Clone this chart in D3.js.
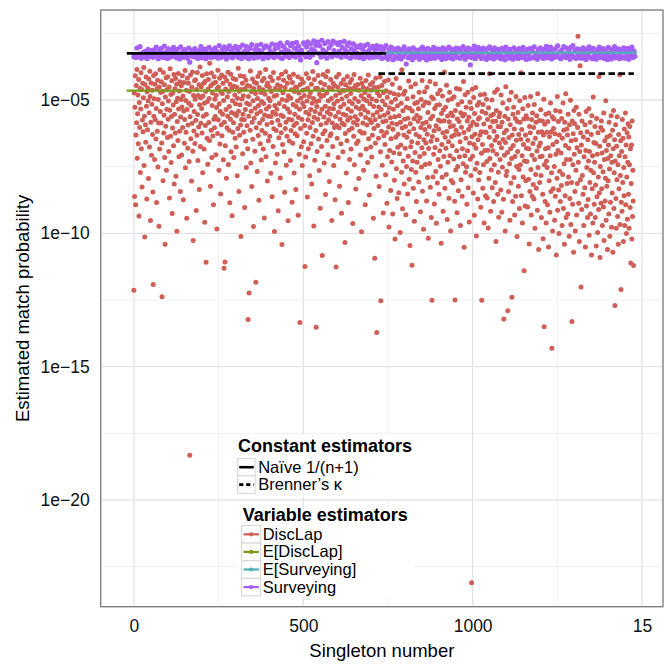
<!DOCTYPE html>
<html lang="en">
<head>
<meta charset="UTF-8">
<title>Estimated match probability</title>
<script src="https://d3js.org/d3.v7.min.js"></script>
<style>
  body { margin: 0; background: #fff; }
  svg { display: block; font-family: "Liberation Sans", Arial, Helvetica, sans-serif; }
</style>
</head>
<body>
<svg width="668" height="664"></svg>
<script>
// DiscLap estimates: -log10(p) in hundredths, one value per singleton from 0
const discLap = [
  1213, 474, 862, 527, 409, 893, 631, 446, 585, 386, 718, 552, 481, 664, 423, 935, 509, 603, 457, 772,
  534, 398, 683, 461, 826, 575, 437, 619, 492, 378, 746, 561, 1014, 442, 593, 658, 414, 523, 871, 469,
  612, 455, 503, 794, 421, 548, 676, 392, 487, 952, 583, 436, 707, 516, 463, 629, 845, 1192, 408, 561,
  495, 723, 441, 574, 402, 646, 532, 884, 459, 617, 426, 751, 498, 586, 973, 451, 684, 387, 543, 472,
  586, 432, 661, 1238, 514, 468, 803, 397, 624, 557, 443, 716, 1041, 489, 598, 417, 763, 535, 462, 641,
  413, 572, 504, 693, 451, 867, 538, 383, 636, 479, 734, 562, 428, 926, 605, 474, 519, 672, 404, 815,
  553, 458, 624, 419, 786, 507, 441, 992, 581, 493, 652, 401, 534, 713, 466, 617, 432, 843, 564, 498,
  447, 706, 526, 409, 603, 485, 874, 541, 434, 662, 573, 389, 754, 502, 621, 463, 943, 536, 418, 681,
  594, 437, 512, 731, 468, 1832, 563, 406, 645, 521, 804, 452, 587, 395, 692, 1027, 483, 616, 543, 428,
  663, 497, 424, 576, 914, 461, 632, 397, 554, 727, 483, 601, 443, 836, 518, 376, 674, 492, 587, 451,
  532, 624, 408, 773, 485, 561, 437, 684, 512, 958, 431, 596, 468, 1108, 553, 402, 643, 506, 741, 459,
  423, 584, 494, 652, 362, 334, 823, 447, 613, 399, 716, 521, 474, 635, 438, 893, 572, 413, 604, 497,
  562, 433, 705, 482, 528, 984, 457, 626, 388, 574, 451, 763, 514, 418, 665, 543, 852, 469, 593, 406,
  634, 476, 553, 437, 724, 502, 1131, 583, 414, 1107, 672, 459, 536, 793, 427, 604, 488, 561, 396, 742,
  468, 613, 524, 885, 441, 572, 403, 694, 547, 456, 934, 503, 621, 419, 585, 716, 448, 552, 481, 643,
  514, 423, 676, 558, 452, 784, 493, 607, 381, 542, 843, 467, 632, 518, 409, 594, 1012, 461, 573, 496,
  437, 702, 553, 484, 621, 412, 574, 903, 458, 536, 654, 426, 753, 512, 597, 446, 683, 1323, 487, 561,
  1224, 517, 448, 613, 391, 736, 542, 469, 824, 583, 421, 647, 503, 974, 457, 568, 433, 692, 531, 476,
  1183, 604, 437, 552, 768, 494, 412, 633, 521, 876, 453, 586, 398, 664, 543, 472, 725, 506, 614, 428,
  573, 462, 684, 513, 419, 942, 556, 478, 625, 386, 713, 534, 447, 592, 804, 436, 561, 653, 493, 524,
  452, 636, 503, 414, 775, 562, 468, 584, 863, 427, 546, 674, 397, 608, 486, 993, 521, 457, 736, 553,
  614, 482, 535, 703, 443, 576, 915, 418, 642, 513, 462, 594, 792, 448, 557, 623, 403, 1042, 498, 667,
  473, 562, 426, 694, 524, 846, 453, 607, 394, 583, 745, 502, 636, 437, 534, 953, 484, 572, 412, 654,
  546, 418, 727, 493, 614, 462, 575, 883, 434, 662, 517, 403, 596, 774, 468, 553, 627, 451, 836, 524,
  587, 452, 634, 504, 413, 932, 566, 474, 703, 535, 1334, 442, 607, 493, 675, 421, 573, 746, 512, 463,
  434, 657, 524, 483, 596, 1124, 462, 714, 546, 402, 625, 504, 864, 456, 574, 683, 418, 553, 487, 784,
  603, 472, 536, 664, 441, 815, 512, 584, 393, 636, 494, 972, 565, 423, 726, 543, 457, 614, 1352, 506,
  524, 693, 456, 572, 408, 646, 503, 764, 478, 552, 906, 434, 593, 487, 674, 535, 1083, 462, 627, 404,
  483, 564, 736, 442, 615, 523, 854, 413, 586, 474, 652, 546, 392, 705, 503, 574, 453, 806, 532, 634,
  553, 423, 627, 494, 952, 458, 586, 674, 437, 533, 746, 514, 603, 446, 874, 562, 483, 1126, 414, 596,
  643, 504, 452, 716, 546, 403, 604, 823, 474, 572, 526, 664, 438, 925, 496, 587, 463, 694, 553, 424,
  516, 593, 464, 1034, 626, 443, 557, 774, 486, 653, 412, 576, 534, 884, 456, 613, 505, 723, 434, 567,
  476, 684, 542, 423, 606, 513, 963, 457, 584, 636, 404, 743, 494, 562, 446, 834, 527, 663, 461, 593,
  574, 442, 654, 506, 794, 463, 534, 617, 418, 706, 553, 484, 994, 437, 624, 523, 586, 452, 763, 496,
  624, 537, 472, 893, 566, 427, 684, 503, 594, 458, 734, 546, 406, 645, 484, 856, 573, 514, 442, 676,
  463, 584, 714, 496, 632, 434, 556, 943, 524, 607, 453, 1093, 574, 662, 418, 786, 503, 1372, 546, 474,
  596, 452, 643, 526, 824, 484, 563, 414, 694, 1253, 536, 617, 446, 745, 504, 582, 924, 473, 634, 557,
  431, 667, 518, 780, 579, 465, 622, 887, 490, 713, 548, 425, 601, 976, 529, 689, 472, 567, 839, 645,
  508, 732, 587, 441, 927, 610, 535, 698, 477, 801, 563, 1021, 497, 640, 419, 758, 591, 869, 522, 677,
  628, 480, 848, 559, 702, 455, 997, 583, 669, 512, 771, 387, 605, 908, 540, 729, 478, 631, 815, 572,
  467, 681, 599, 930, 527, 749, 640, 495, 852, 568, 711, 429, 619, 797, 531, 1046, 589, 675, 450, 761,
  657, 1120, 541, 729, 488, 831, 608, 570, 955, 513, 697, 440, 771, 629, 881, 558, 733, 509, 661, 580,
  533, 807, 471, 638, 712, 567, 919, 603, 498, 751, 679, 427, 842, 588, 521, 985, 649, 701, 469, 611,
  742, 508, 661, 583, 879, 452, 628, 791, 547, 1018, 682, 511, 599, 738, 431, 827, 570, 655, 941, 489,
  1251, 637, 561, 789, 495, 703, 615, 890, 532, 678, 440, 768, 597, 962, 520, 649, 811, 477, 723, 575,
  609, 853, 518, 690, 463, 748, 580, 1037, 551, 667, 790, 485, 623, 917, 537, 712, 578, 395, 831, 640,
  527, 681, 779, 445, 618, 948, 560, 733, 501, 657, 868, 582, 471, 709, 600, 991, 549, 802, 637, 495,
  672, 559, 810, 597, 721, 488, 631, 880, 1250, 539, 762, 613, 457, 690, 923, 571, 749, 517, 840, 628,
  581, 713, 460, 657, 971, 548, 799, 602, 507, 861, 683, 560, 739, 431, 622, 1052, 553, 709, 480, 771,
  643, 527, 750, 891, 579, 690, 471, 829, 611, 565, 957, 661, 508, 722, 597, 783, 532, 2310, 638, 460,
  711, 583, 849, 491, 667, 932, 551, 628, 760, 453, 681, 1010, 593, 737, 520, 871, 649, 571, 800, 509,
  567, 772, 631, 480, 902, 619, 700, 1251, 543, 667, 831, 517, 743, 590, 961, 478, 689, 620, 859, 550,
  622, 497, 731, 867, 573, 688, 980, 529, 793, 640, 402, 719, 601, 917, 559, 762, 671, 500, 829, 581,
  690, 553, 881, 617, 743, 471, 651, 809, 580, 1031, 539, 703, 637, 461, 853, 599, 771, 940, 563, 661,
  549, 723, 600, 837, 481, 679, 921, 583, 752, 511, 648, 872, 1321, 623, 707, 561, 991, 659, 450, 783,
  613, 767, 532, 697, 1290, 571, 843, 641, 500, 739, 951, 593, 683, 811, 471, 719, 1240, 631, 881, 553,
  671, 527, 791, 609, 931, 712, 569, 861, 487, 651, 749, 1012, 581, 693, 547, 823, 629, 761, 907, 503,
  583, 743, 647, 398, 859, 611, 709, 961, 533, 789, 667, 571, 1140, 729, 491, 897, 631, 803, 559, 681,
  731, 569, 901, 651, 521, 797, 683, 1040, 599, 843, 623, 487, 761, 931, 573, 707, 861, 549, 663, 817,
  603, 871, 517, 723, 981, 643, 779, 583, 831, 559, 691, 913, 477, 753, 621, 1061, 673, 577, 809, 713,
  661, 537, 783, 941, 619, 711, 579, 853, 1020, 631, 497, 1350, 743, 591, 881, 683, 553, 961, 729, 621,
  753, 893, 581, 679, 1051, 549, 803, 637, 921, 709, 511, 843, 619, 773, 1431, 563, 991, 667, 833, 607,
  571, 749, 951, 627, 861, 539, 703, 1081, 657, 793, 487, 913, 689, 581, 837, 1001, 631, 767, 543, 881,
  341, 699, 821, 569, 971, 643, 779, 511, 907, 613, 739, 1041, 583, 859, 671, 477, 941, 723, 609, 813,
  631, 927, 553, 789, 681, 1011, 593, 869, 723, 501, 967, 653, 809, 1331, 579, 891, 743, 627, 1071, 539,
  703, 589, 843, 991, 649, 763, 527, 931, 679, 813, 603, 261, 733, 887, 553, 1031, 693, 372, 799, 623,
  1201, 669, 911, 579, 783, 321, 853, 639, 971, 713, 341, 829, 593, 1051, 689, 543, 897, 753, 619, 941,
  649, 873, 729, 533, 1007, 693, 809, 583, 927, 763, 629, 1081, 559, 833, 709, 961, 489, 773, 659, 891,
  733, 599, 941, 819, 663, 1047, 569, 863, 703, 997, 623, 789, 911, 412, 849, 673, 1091, 749, 603, 887,
  579, 833, 699, 971, 613, 769, 901, 549, 1027, 723, 653, 879, 793, 503, 951, 689, 823, 639, 1061, 719,
  803, 669, 927, 583, 759, 1011, 633, 883, 709, 559, 977, 733, 849, 613, 1071, 683, 539, 907, 773, 649,
  1271, 729, 593, 869, 981, 673, 799, 563, 937, 743, 1041, 629, 833, 709, 405, 967, 783, 653, 1211, 883,
  693, 917, 573, 809, 643, 1031, 753, 859, 609, 971, 713, 549, 893, 669, 1001, 789, 623, 947, 733, 589,
  853, 639, 981, 743, 599, 903, 683, 1111, 813, 669, 1021, 579, 937, 763, 879, 1121
];

// Surveying estimates: -log10(p) in hundredths, one value every 3 singletons from 0
const surveyingStep = 3;
const surveying = [
  338, 332, 341, 305, 336, 328, 300, 343, 335, 322, 339, 318, 331, 344, 310, 326, 337, 315, 329, 340,
  312, 334, 302, 327, 345, 316, 338, 306, 323, 341, 298, 333, 319, 344, 308, 330, 339, 313, 325, 303,
  336, 317, 342, 309, 328, 346, 301, 332, 320, 340, 311, 335, 324, 343, 305, 358, 329, 314, 337, 321,
  307, 339, 326, 344, 315, 331, 300, 342, 318, 334, 309, 345, 322, 336, 303, 329, 341, 313, 327, 338,
  304, 332, 319, 343, 296, 328, 340, 311, 335, 301, 324, 346, 308, 330, 297, 338, 316, 342, 306, 327,
  299, 336, 312, 341, 303, 325, 344, 294, 331, 317, 339, 300, 322, 345, 307, 334, 292, 328, 343, 310,
  326, 296, 340, 314, 333, 291, 321, 345, 305, 337, 297, 329, 342, 302, 318, 336, 290, 324, 341, 308,
  293, 331, 303, 339, 287, 320, 344, 298, 327, 310, 336, 285, 316, 341, 296, 324, 288, 334, 306, 339,
  284, 318, 298, 335, 350, 313, 328, 286, 291, 338, 301, 282, 322, 340, 289, 309, 331, 278, 316, 295,
  360, 283, 326, 297, 339, 276, 312, 335, 288, 320, 343, 281, 305, 330, 293, 338, 279, 315, 328, 286,
  334, 292, 318, 284, 340, 303, 327, 280, 312, 337, 295, 321, 286, 343, 307, 330, 289, 316, 339, 299,
  325, 302, 341, 294, 333, 310, 345, 297, 322, 337, 291, 315, 342, 305, 329, 299, 340, 312, 326, 296,
  338, 309, 331, 300, 344, 318, 306, 340, 296, 328, 347, 312, 335, 302, 323, 349, 308, 337, 315, 343,
  305, 332, 319, 346, 311, 338, 301, 326, 365, 315, 342, 308, 335, 322, 349, 304, 329, 340, 313, 336,
  320, 347, 309, 333, 302, 341, 316, 328, 350, 306, 337, 323, 345, 311, 330, 303, 343, 318, 334, 308,
  339, 313, 327, 348, 304, 336, 319, 344, 309, 331, 302, 342, 325, 310, 346, 317, 333, 305, 340, 321,
  307, 343, 316, 335, 300, 328, 347, 312, 338, 305, 324, 368, 341, 309, 332, 298, 345, 314, 329, 303,
  336, 311, 344, 322, 305, 339, 317, 348, 308, 330, 301, 342, 326, 313, 346, 304, 334, 320, 340, 310,
  327, 345, 306, 338, 315, 349, 302, 331, 319, 343, 309, 336, 324, 347, 304, 340, 313, 329, 344, 307,
  333, 316, 341, 303, 337, 322, 348, 310, 328, 345, 306, 339, 318, 342, 301, 334, 325, 347, 311, 336,
  304, 338, 321, 344, 309, 330, 299, 342, 316, 335, 302, 346, 313, 328, 340, 307, 333, 297, 339, 320,
  345, 312, 336, 300, 327, 341, 305, 334, 318, 347, 303, 331, 296, 339, 315, 344, 308, 329, 342, 311,
  326, 343, 304, 337, 320, 348, 309, 332, 301, 340, 317, 345, 306, 335, 323, 347, 312, 330, 302, 341,
  318, 336, 307, 344, 314, 329, 349, 303, 338, 321, 346, 310, 333, 300, 342, 316, 337, 308, 345, 325,
  311, 339, 304, 343, 320, 334, 306, 347, 315, 330, 302, 341, 317, 336
];

// constant estimators: singleton range and -log10(p)
const constNames = ["Naïve 1/(n+1)", "Brenner’s κ"];
const constRanges = [[-21, 744], [722, 1476]];
const constValues = [3.25, 4.01];

// expected values of the variable estimators
const varNames = ["DiscLap", "E[DiscLap]", "E[Surveying]", "Surveying"];
const expDiscLapRange = [-21, 744];
const expDiscLapValue = 4.65;
const expSurveyingRange = [744, 1485];
const expSurveyingValue = 3.225;

const xTicks = [0, 500, 1000, 1500];
const xTickLabels = ["0", "500", "1000", "15"];
const xMinor = [250, 750, 1250];
const yTicks = [-5, -10, -15, -20];
const yTickLabels = ["1e\u221205", "1e\u221210", "1e\u221215", "1e\u221220"];
const yMinor = [-2.5, -7.5, -12.5, -17.5, -22.5];

const varColors = ["#CF5E56", "#7A9A1A", "#4FB0B5", "#A65FF6"];

const panel = { left: 100.7, right: 663, top: 10, bottom: 606.7 };

const x = d3.scaleLinear().domain([-98, 1562]).range([panel.left, panel.right]);
const y = d3.scaleLog().domain([Math.pow(10, -24), Math.pow(10, -1.625)]).range([panel.bottom, panel.top]);
const p = m => Math.pow(10, -m);

const svg = d3.select("svg");

svg.append("rect").attr("width", 668).attr("height", 664).attr("fill", "#fff");

svg.append("clipPath").attr("id", "clip")
  .append("rect")
  .attr("x", panel.left).attr("y", panel.top)
  .attr("width", panel.right - panel.left).attr("height", panel.bottom - panel.top);

const plot = svg.append("g").attr("clip-path", "url(#clip)");

// grid
plot.selectAll(".xminor").data(xMinor).enter().append("line")
  .attr("x1", d => x(d)).attr("x2", d => x(d))
  .attr("y1", panel.top).attr("y2", panel.bottom)
  .attr("stroke", "#f3f3f3").attr("stroke-width", 1.2);
plot.selectAll(".yminor").data(yMinor).enter().append("line")
  .attr("x1", panel.left).attr("x2", panel.right)
  .attr("y1", d => y(Math.pow(10, d))).attr("y2", d => y(Math.pow(10, d)))
  .attr("stroke", "#f3f3f3").attr("stroke-width", 1.2);
plot.selectAll(".xmajor").data(xTicks).enter().append("line")
  .attr("x1", d => x(d)).attr("x2", d => x(d))
  .attr("y1", panel.top).attr("y2", panel.bottom)
  .attr("stroke", "#e3e3e3").attr("stroke-width", 1.3);
plot.selectAll(".ymajor").data(yTicks).enter().append("line")
  .attr("x1", panel.left).attr("x2", panel.right)
  .attr("y1", d => y(Math.pow(10, d))).attr("y2", d => y(Math.pow(10, d)))
  .attr("stroke", "#e3e3e3").attr("stroke-width", 1.3);

// points
plot.selectAll(".disclap").data(discLap).enter().append("circle")
  .attr("cx", (d, i) => x(i))
  .attr("cy", d => y(p(d / 100)))
  .attr("r", 2.5)
  .attr("fill", varColors[0]);

plot.selectAll(".surveying").data(surveying).enter().append("circle")
  .attr("cx", (d, i) => x(i * surveyingStep))
  .attr("cy", d => y(p(d / 100)))
  .attr("r", 2.6)
  .attr("fill", varColors[3]);

// expected value lines
plot.append("line")
  .attr("x1", x(expDiscLapRange[0])).attr("x2", x(expDiscLapRange[1]))
  .attr("y1", y(p(expDiscLapValue))).attr("y2", y(p(expDiscLapValue)))
  .attr("stroke", varColors[1]).attr("stroke-width", 2.2);
plot.append("line")
  .attr("x1", x(expSurveyingRange[0])).attr("x2", x(expSurveyingRange[1]))
  .attr("y1", y(p(expSurveyingValue))).attr("y2", y(p(expSurveyingValue)))
  .attr("stroke", varColors[2]).attr("stroke-width", 2.4);

// constant estimators
const constDash = [null, "6.5,3.5"];
constNames.forEach((name, i) => {
  plot.append("line")
    .attr("x1", x(constRanges[i][0])).attr("x2", x(constRanges[i][1]))
    .attr("y1", y(p(constValues[i]))).attr("y2", y(p(constValues[i])))
    .attr("stroke", "#000").attr("stroke-width", 2.8)
    .attr("stroke-dasharray", constDash[i]);
});

// axes
const yAxis = svg.append("g")
  .attr("transform", `translate(${panel.left},0)`)
  .call(d3.axisLeft(y)
    .tickValues(yTicks.map(d => Math.pow(10, d)))
    .tickFormat((d, i) => yTickLabels[i])
    .tickSize(0).tickPadding(11));
yAxis.select(".domain").remove();
yAxis.selectAll("text")
  .attr("font-size", 17.5).attr("fill", "#111")
  .attr("font-family", "'Liberation Sans', Arial, sans-serif");

const xAxis = svg.append("g")
  .attr("transform", `translate(0,${panel.bottom})`)
  .call(d3.axisBottom(x)
    .tickValues(xTicks)
    .tickFormat((d, i) => xTickLabels[i])
    .tickSize(0).tickPadding(12.6));
xAxis.select(".domain").remove();
xAxis.selectAll("text")
  .attr("font-size", 17.5).attr("fill", "#111")
  .attr("font-family", "'Liberation Sans', Arial, sans-serif");

svg.append("text")
  .attr("x", (panel.left + panel.right) / 2).attr("y", 657.3)
  .attr("text-anchor", "middle").attr("font-size", 18.5)
  .text("Singleton number");

svg.append("text")
  .attr("transform", `translate(28.5,${(panel.top + panel.bottom) / 2}) rotate(-90)`)
  .attr("text-anchor", "middle").attr("font-size", 18.5)
  .text("Estimated match probability");

// legends
const leg1 = svg.append("g");
leg1.append("rect").attr("x", 234).attr("y", 435).attr("width", 184).attr("height", 62).attr("fill", "#fff");
leg1.append("text").attr("x", 238).attr("y", 452).attr("font-size", 18).attr("font-weight", "bold")
  .text("Constant estimators");
constNames.forEach((name, i) => {
  const row = leg1.append("g").attr("transform", `translate(237.7,${458.5 + i * 17.4})`);
  row.append("rect").attr("width", 17.4).attr("height", 17.4)
    .attr("fill", "#fff").attr("stroke", "#d4d4d4").attr("stroke-width", 1);
  row.append("line").attr("x1", 1.5).attr("x2", 16).attr("y1", 8.7).attr("y2", 8.7)
    .attr("stroke", "#000").attr("stroke-width", 2.6)
    .attr("stroke-dasharray", i === 1 ? "4.2,2.8" : null);
  row.append("text").attr("x", 20.5).attr("y", 14.2).attr("font-size", 16.5).text(name);
});

const leg2 = svg.append("g");
leg2.append("rect").attr("x", 238).attr("y", 509).attr("width", 176).attr("height", 88).attr("fill", "#fff");
leg2.append("text").attr("x", 242.7).attr("y", 521).attr("font-size", 18).attr("font-weight", "bold")
  .text("Variable estimators");
varNames.forEach((name, i) => {
  const row = leg2.append("g").attr("transform", `translate(241.7,${525.5 + i * 17.6})`);
  row.append("rect").attr("width", 19).attr("height", 17.6)
    .attr("fill", "#fff").attr("stroke", "#d4d4d4").attr("stroke-width", 1);
  row.append("line").attr("x1", 1.8).attr("x2", 17.2).attr("y1", 8.8).attr("y2", 8.8)
    .attr("stroke", varColors[i]).attr("stroke-width", 2.2);
  row.append("circle").attr("cx", 9.5).attr("cy", 8.8).attr("r", 2.1).attr("fill", varColors[i]);
  row.append("text").attr("x", 21).attr("y", 14.2).attr("font-size", 16.5).text(name);
});

// panel border
svg.append("rect")
  .attr("x", panel.left).attr("y", panel.top)
  .attr("width", panel.right - panel.left).attr("height", panel.bottom - panel.top)
  .attr("fill", "none").attr("stroke", "#808080").attr("stroke-width", 1.4);
</script>
</body>
</html>
